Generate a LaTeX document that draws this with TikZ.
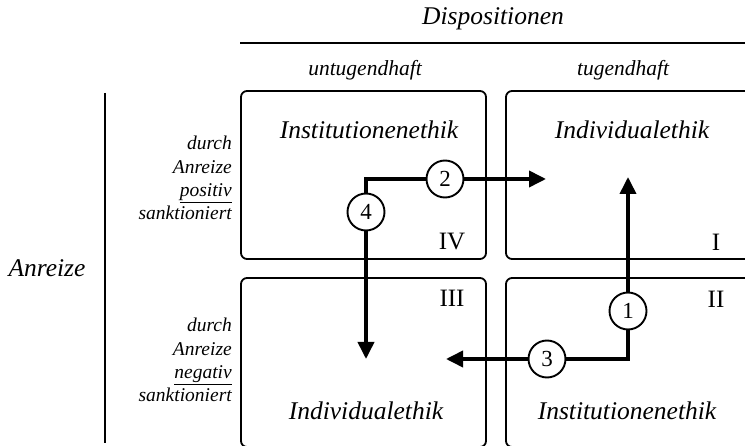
\documentclass[tikz,border=0pt]{standalone}
\usepackage{fontspec}
\setmainfont{Liberation Serif}
\usetikzlibrary{arrows.meta}
\begin{document}
\begin{tikzpicture}[x=1pt,y=-1pt,
  quad/.style={draw, line width=1.8pt, rounded corners=6pt, inner sep=0pt},
  big/.style={font=\fontsize{25.5}{30}\selectfont\itshape, inner sep=0pt},
  head/.style={font=\fontsize{21.5}{26}\selectfont\itshape, inner sep=0pt},
  side/.style={font=\fontsize{19.5}{23.2}\selectfont\itshape, align=right, inner sep=0pt},
  roman/.style={font=\fontsize{25}{30}\selectfont, inner sep=0pt},
  num/.style={draw, circle, fill=white, line width=1.9pt, minimum size=37pt, inner sep=0pt, font=\fontsize{23}{27}\selectfont},
  arr/.style={line width=3.7pt, -{Triangle[length=17pt,width=16pt]}},
  rule/.style={line width=1.3pt}
]
\clip (0,0) rectangle (745,446);
% header
\node[big] (disp) at (493,19) {Dispositionen};
\draw[rule] (240,43) -- (745,43);
\node[head] (untug) at (365,70) {untugendhaft};
\node[head] (tug) at (623,70) {tugendhaft};
% left labels
\node[big] (anr) at (47,268) {Anreize};
\draw[rule] (105,93) -- (105,443);
\node[side, anchor=east] (spos) at (232,178) {durch\\Anreize\\\underline{positiv}\\sanktioniert};
\node[side, anchor=east] (sneg) at (232,360) {durch\\Anreize\\\underline{negativ}\\sanktioniert};
% quadrants
\node[quad, minimum width=245pt, minimum height=168pt] (qIV) at (363.5,175) {};
\node[quad, minimum width=254pt, minimum height=168pt] (qI) at (633,175) {};
\node[quad, minimum width=245pt, minimum height=169pt] (qIII) at (363.5,362.5) {};
\node[quad, minimum width=254pt, minimum height=169pt] (qII) at (633,362.5) {};
% quadrant texts
\node[big] (tIV) at (369,130) {Institutionenethik};
\node[big] (tI) at (632,130) {Individualethik};
\node[big] (tIII) at (366,411) {Individualethik};
\node[big] (tII) at (627,411) {Institutionenethik};
\node[roman] (rIV) at (452,242) {IV};
\node[roman] (rI) at (716,242) {I};
\node[roman] (rIII) at (452,298) {III};
\node[roman] (rII) at (716,299) {II};
% arrows
\coordinate (cA) at (366,179);
\coordinate (cB) at (628,359);
\coordinate (e2) at (546,179);
\coordinate (e4) at (366,359);
\coordinate (e1) at (628,177);
\coordinate (e3) at (446,359);
\draw[arr] ([xshift=-1.85pt]cA) -- (e2);
\draw[arr] ([yshift=-1.85pt]cA) -- (e4);
\draw[arr] ([yshift=1.85pt]cB) -- (e1);
\draw[arr] ([xshift=1.85pt]cB) -- (e3);
\node[num] (n2) at (445,179) {2};
\node[num] (n4) at (366,212) {4};
\node[num] (n1) at (628,311) {1};
\node[num] (n3) at (547,359) {3};
\end{tikzpicture}
\end{document}
